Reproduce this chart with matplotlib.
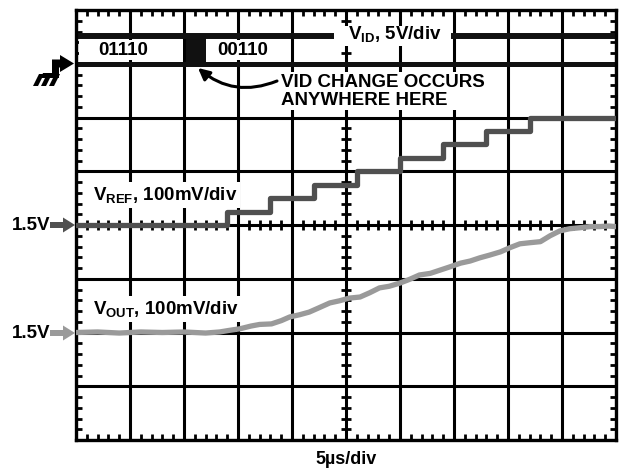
import numpy as np
import matplotlib.pyplot as plt
from matplotlib.patches import Polygon, Rectangle, FancyArrow

plt.rcParams['font.family'] = ['Liberation Sans', 'DejaVu Sans']
plt.rcParams['font.weight'] = 'bold'
plt.rcParams['mathtext.default'] = 'regular'

# time in us (5us/div), traces in mV above 1.5V
vref_t = [0, 14, 18, 22, 26, 30, 34, 38, 42, 50]
vref_mv = [0, 25, 50, 75, 100, 125, 150, 175, 200, 200]

vout_t = [0, 2, 4, 6, 8, 10, 12, 13.3, 14.2, 15.2, 16.2, 17.0, 18.1, 19.0, 19.8,
          20.7, 21.6, 22.5, 23.5, 24.4, 25.3, 26.3, 27.2, 28.1, 29.0, 30.0, 30.9,
          31.8, 32.8, 33.7, 34.6, 35.6, 36.5, 37.4, 38.3, 39.3, 40.2, 41.1, 42.0,
          43.0, 43.9, 44.8, 45.7, 46.7, 47.6, 48.5, 49.3, 50]
vout_mv = [0, 1, -1, 1, 0, 1, -1, 1, 4, 7, 12, 15, 16, 22, 29,
           33, 38, 46, 55, 59, 64, 66, 74, 83, 86, 92, 99,
           107, 110, 116, 122, 129, 133, 139, 144, 150, 158, 165, 167,
           169, 180, 189, 193, 195, 197, 197, 198, 197]

# VID logic trace (divisions), code change window in us
vid_levels = [3.52, 3.0]
vid_change = [10.0, 12.0]
vid_codes = ['01110', '00110']

vref_offset = 0.0   # divisions
vout_offset = -2.0
mv_per_div = 100.0

fig = plt.figure(figsize=(6.19, 4.74), dpi=100)
ax = fig.add_axes([76/619, 1 - 440/474, 540/619, 430/474])
ax.set_xlim(0, 50)
ax.set_ylim(-4, 4)

# graticule
ax.set_xticks(np.arange(0, 51, 5))
ax.set_yticks(np.arange(-4, 5, 1))
ax.set_xticks(np.arange(0, 50.01, 1), minor=True)
ax.set_yticks(np.arange(-4, 4.01, 0.2), minor=True)
ax.grid(True, which='major', color='black', lw=2.2)
ax.tick_params(which='major', length=0, labelbottom=False, labelleft=False)
ax.tick_params(which='minor', direction='in', length=4, width=2,
               top=True, right=True, bottom=True, left=True,
               labelbottom=False, labelleft=False)
for s in ax.spines.values():
    s.set_linewidth(2.4)

minor_x = np.arange(0, 50.01, 1)
minor_y = np.arange(-4, 4.01, 0.2)
ax.plot(minor_x, np.zeros_like(minor_x), ls='none', marker='|', ms=7, mew=2, color='black')
ax.plot(np.full_like(minor_y, 25), minor_y, ls='none', marker='_', ms=7, mew=2, color='black')

# VID trace
ax.plot([0, 50], [vid_levels[0]] * 2, color='#111111', lw=4.3, solid_capstyle='butt')
ax.plot([0, 50], [vid_levels[1]] * 2, color='#111111', lw=3.6, solid_capstyle='butt')
ax.fill_between(vid_change, vid_levels[1], vid_levels[0], color='#111111', lw=0)

# VREF / VOUT
ax.step(vref_t, vref_offset + np.array(vref_mv) / mv_per_div, where='post',
        color='#505050', lw=3.8, zorder=4)
ax.plot(vout_t, vout_offset + np.array(vout_mv) / mv_per_div,
        color='#9a9a9a', lw=3.8, zorder=4, solid_joinstyle='round')

# overlay in pixel coordinates for labels and symbols
ov = fig.add_axes([0, 0, 1, 1], zorder=5)
ov.set_xlim(0, 619)
ov.set_ylim(474, 0)
ov.axis('off')
ov.patch.set_alpha(0)

fs = 13.5
white = dict(boxstyle='square,pad=0.15', fc='white', ec='none')

# white label areas between the VID lines
ov.add_patch(Rectangle((79, 40), 104, 20, color='white', lw=0))
ov.add_patch(Rectangle((207, 40), 83, 20, color='white', lw=0))
ov.add_patch(Rectangle((334, 26), 117, 20, color='white', lw=0))
ov.text(123, 50, vid_codes[0], ha='center', va='center', fontsize=fs)
ov.text(243, 50, vid_codes[1], ha='center', va='center', fontsize=fs)
ov.text(348, 34, 'V$_{ID}$, 5V/div', ha='left', va='center', fontsize=fs)

ov.add_patch(Rectangle((279, 72), 212, 38, color='white', lw=0))
ov.text(281, 82, 'VID CHANGE OCCURS', ha='left', va='center', fontsize=fs)
ov.text(281, 100, 'ANYWHERE HERE', ha='left', va='center', fontsize=fs)
ov.annotate('', xy=(198, 68), xytext=(277, 81),
            arrowprops=dict(arrowstyle='-|>', connectionstyle='arc3,rad=-0.3',
                            color='black', lw=2.2, mutation_scale=17,
                            shrinkA=0, shrinkB=0))

ov.text(93, 195, 'V$_{REF}$, 100mV/div', ha='left', va='center', fontsize=fs, bbox=white)
ov.text(93, 309, 'V$_{OUT}$, 100mV/div', ha='left', va='center', fontsize=fs, bbox=white)

ov.text(12, 225, '1.5V', ha='left', va='center', fontsize=fs)
ov.text(12, 333, '1.5V', ha='left', va='center', fontsize=fs)
ov.add_patch(FancyArrow(50, 225, 25, 0, width=6, head_width=15, head_length=12,
                        length_includes_head=True, color='#505050', lw=0))
ov.add_patch(FancyArrow(50, 333, 25, 0, width=6, head_width=15, head_length=12,
                        length_includes_head=True, color='#9a9a9a', lw=0))

# ground symbol
ov.add_patch(Polygon([(52, 59.5), (60, 59.5), (60, 55), (74, 63.5), (60, 72), (60, 67.5),
                      (59, 67.5), (59, 78), (52, 78)], closed=True, color='black', lw=0))
ov.add_patch(Polygon([(43, 73), (59, 73), (59, 78), (41, 78)], closed=True, color='black', lw=0))
for x0 in (42, 50, 58):
    ov.add_patch(Polygon([(x0 - 3, 74), (x0 + 2, 74), (x0 - 4, 86), (x0 - 9, 86)],
                         closed=True, color='black', lw=0))

ov.text(346, 459, '5\u00b5s/div', ha='center', va='center', fontsize=13)

fig.savefig('out.png', dpi=100)
